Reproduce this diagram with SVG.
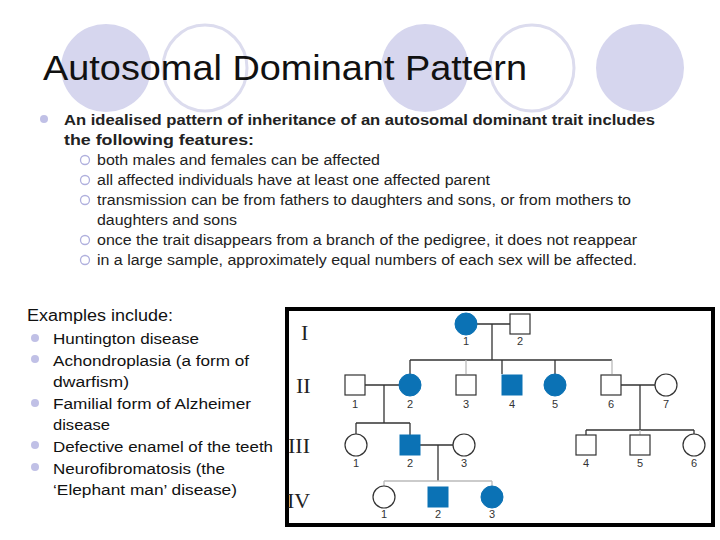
<svg xmlns="http://www.w3.org/2000/svg" width="720" height="540" viewBox="0 0 720 540">
<style>
text{font-family:"Liberation Sans",Arial,sans-serif}
.bg{fill:#d6d6ee}.bgo{fill:none;stroke:#dcdcee;stroke-width:3}
.a{fill:#0b72b5;stroke:#0b72b5}.u{fill:#fff;stroke:#333;stroke-width:1.2}
.n{font-size:11px;fill:#333;text-anchor:middle}
.r{font-family:"Liberation Serif",serif;font-size:22px;fill:#222}
.l{stroke:#333;stroke-width:1.3;fill:none}.lg{stroke:#bbb;stroke-width:1.3;fill:none}
.s{font-size:14px;fill:#222}.e{font-size:15.5px;fill:#111}
</style>
<rect width="720" height="540" fill="#fff"/>
<g id="decor">
<ellipse class="bg" cx="106" cy="68" rx="45" ry="44"/><ellipse class="bgo" cx="205" cy="68" rx="42" ry="43"/>
<ellipse class="bg" cx="425" cy="68" rx="44" ry="44"/><ellipse class="bgo" cx="532" cy="68" rx="42" ry="43"/>
<ellipse class="bg" cx="640" cy="68" rx="44" ry="44"/>
</g>
<text x="43" y="80" font-size="35" fill="#111" textLength="484" lengthAdjust="spacingAndGlyphs">Autosomal Dominant Pattern</text>
<g id="text">
<circle cx="44" cy="119" r="4" fill="#c0c0e6"/>
<text x="64" y="125" font-size="15" font-weight="bold" fill="#222" textLength="591" lengthAdjust="spacingAndGlyphs">An idealised pattern of inheritance of an autosomal dominant trait includes</text>
<text x="64" y="145" font-size="15" font-weight="bold" fill="#222" textLength="190" lengthAdjust="spacingAndGlyphs">the following features:</text>
<g fill="none" stroke="#b0b0dd" stroke-width="1.3">
<circle cx="85" cy="160" r="4.5"/><circle cx="85" cy="180" r="4.5"/><circle cx="85" cy="200" r="4.5"/><circle cx="85" cy="240" r="4.5"/><circle cx="85" cy="260" r="4.5"/></g>
<text class="s" x="97" y="165" textLength="283" lengthAdjust="spacingAndGlyphs">both males and females can be affected</text>
<text class="s" x="97" y="185" textLength="393" lengthAdjust="spacingAndGlyphs">all affected individuals have at least one affected parent</text>
<text class="s" x="97" y="205" textLength="534" lengthAdjust="spacingAndGlyphs">transmission can be from fathers to daughters and sons, or from mothers to</text>
<text class="s" x="97" y="225" textLength="140" lengthAdjust="spacingAndGlyphs">daughters and sons</text>
<text class="s" x="97" y="245" textLength="540" lengthAdjust="spacingAndGlyphs">once the trait disappears from a branch of the pedigree, it does not reappear</text>
<text class="s" x="97" y="265" textLength="540" lengthAdjust="spacingAndGlyphs">in a large sample, approximately equal numbers of each sex will be affected.</text>
<text x="27" y="321" font-size="16" fill="#111" textLength="146" lengthAdjust="spacingAndGlyphs">Examples include:</text>
<g fill="#c0c0e6"><circle cx="35" cy="338" r="4"/><circle cx="35" cy="359" r="4"/><circle cx="35" cy="403" r="4"/><circle cx="35" cy="445" r="4"/><circle cx="35" cy="467" r="4"/></g>
<text class="e" x="53" y="344" textLength="146" lengthAdjust="spacingAndGlyphs">Huntington disease</text>
<text class="e" x="53" y="366" textLength="196" lengthAdjust="spacingAndGlyphs">Achondroplasia (a form of</text>
<text class="e" x="53" y="387" textLength="76" lengthAdjust="spacingAndGlyphs">dwarfism)</text>
<text class="e" x="53" y="409" textLength="198" lengthAdjust="spacingAndGlyphs">Familial form of Alzheimer</text>
<text class="e" x="53" y="430" textLength="57" lengthAdjust="spacingAndGlyphs">disease</text>
<text class="e" x="53" y="452" textLength="220" lengthAdjust="spacingAndGlyphs">Defective enamel of the teeth</text>
<text class="e" x="53" y="474" textLength="172" lengthAdjust="spacingAndGlyphs">Neurofibromatosis (the</text>
<text class="e" x="53" y="495" textLength="184" lengthAdjust="spacingAndGlyphs">‘Elephant man’ disease)</text>
</g>
<rect x="287" y="309" width="426" height="216" fill="#fff" stroke="#000" stroke-width="4"/>
<g id="connectors">
<path class="l" d="M477 324H510M492 324V360M410 360H612M410 360V374M502 360V374M555 360V374"/>
<path class="lg" d="M466 360V374M612 360V374"/>
<path class="l" d="M365 385H399M384 385V423M356 423H410M356 423V434M410 423V435"/>
<path class="l" d="M420 445H453M438 445V481"/>
<path class="lg" d="M384 481H492M384 481V486M492 481V486"/>
<path class="l" d="M621 385H655M640 385V430M586 430H694M586 430V435M694 430V434"/>
<path class="lg" d="M640 430V435"/>
</g>
<g id="labels">
<text class="r" x="301" y="340">I</text><text class="r" x="296" y="393">II</text><text class="r" x="288" y="453">III</text><text class="r" x="287" y="508">IV</text>
</g>
<g id="I1"><circle class="a" cx="466" cy="324" r="11"/><text class="n" x="466" y="345">1</text></g>
<g id="I2"><rect class="u" x="510" y="314" width="20" height="20"/><text class="n" x="520" y="345">2</text></g>
<g id="II1"><rect class="u" x="345" y="375" width="20" height="20"/><text class="n" x="355" y="408">1</text></g>
<g id="II2"><circle class="a" cx="410" cy="385" r="11"/><text class="n" x="410" y="408">2</text></g>
<g id="II3"><rect class="u" x="456" y="375" width="20" height="20"/><text class="n" x="466" y="408">3</text></g>
<g id="II4"><rect class="a" x="502" y="375" width="20" height="20"/><text class="n" x="512" y="408">4</text></g>
<g id="II5"><circle class="a" cx="555" cy="385" r="11"/><text class="n" x="555" y="408">5</text></g>
<g id="II6"><rect class="u" x="601" y="375" width="20" height="20"/><text class="n" x="611" y="408">6</text></g>
<g id="II7"><circle class="u" cx="666" cy="385" r="11"/><text class="n" x="666" y="408">7</text></g>
<g id="III1"><circle class="u" cx="356" cy="445" r="11"/><text class="n" x="356" y="467">1</text></g>
<g id="III2"><rect class="a" x="400" y="435" width="20" height="20"/><text class="n" x="410" y="467">2</text></g>
<g id="III3"><circle class="u" cx="464" cy="445" r="11"/><text class="n" x="464" y="467">3</text></g>
<g id="III4"><rect class="u" x="576" y="435" width="20" height="20"/><text class="n" x="586" y="467">4</text></g>
<g id="III5"><rect class="u" x="630" y="435" width="20" height="20"/><text class="n" x="640" y="467">5</text></g>
<g id="III6"><circle class="u" cx="694" cy="445" r="11"/><text class="n" x="694" y="467">6</text></g>
<g id="IV1"><circle class="u" cx="384" cy="497" r="11"/><text class="n" x="384" y="518">1</text></g>
<g id="IV2"><rect class="a" x="428" y="487" width="20" height="20"/><text class="n" x="438" y="518">2</text></g>
<g id="IV3"><circle class="a" cx="492" cy="497" r="11"/><text class="n" x="492" y="518">3</text></g>
</svg>
